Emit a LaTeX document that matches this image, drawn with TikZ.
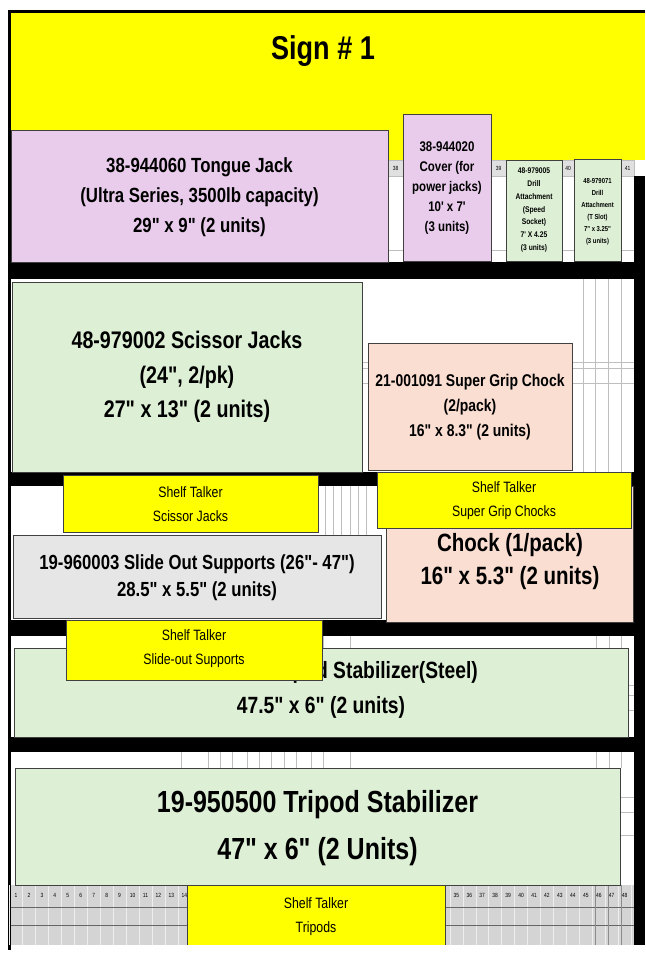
\documentclass[tikz,border=0pt]{standalone}
\usepackage{fontspec}
\setmainfont{Liberation Sans}[FakeStretch=0.82, Ligatures=TeXOff]
\usepackage{tikz}

\definecolor{signyellow}{RGB}{255,255,0}
\definecolor{jackpink}{RGB}{233,204,236}
\definecolor{boxgreen}{RGB}{221,240,213}
\definecolor{chockpeach}{RGB}{250,222,210}
\definecolor{slidegray}{RGB}{230,230,230}
\definecolor{rulergray}{RGB}{212,212,212}
\definecolor{cellline}{RGB}{190,190,190}

\begin{document}
\begin{tikzpicture}[x=1pt, y=-1pt,
    box/.style={draw=black!75, line width=0.8pt},
    talker/.style={fill=signyellow, draw=black!75, line width=0.8pt},
    cell/.style={draw=cellline, line width=0.6pt},
    lbl/.style 2 args={align=center, inner sep=0pt, font=\fontsize{#1}{#2}\selectfont\bfseries},
    talk/.style={align=center, inner sep=0pt, font=\fontsize{15}{24}\selectfont},
    rulernum/.style={inner sep=0pt, font=\fontsize{6}{6}\selectfont}]
    % page
    \useasboundingbox (0,0) rectangle (645,955);
    \fill[white] (0,0) rectangle (645,955);
    
    % yellow header
    \fill[signyellow] (11,13) rectangle (645,160);
    \node[lbl={33}{40}] (title) at (323,51) {Sign \# 1};
    
    % header cells between the top boxes
    \foreach \xa/\xb/\num in {388/403/38, 491/506/39, 562/574/40, 621/634/41} {
        \filldraw[cell, fill=black!12] (\xa,160) rectangle (\xb,176);
        \node[rulernum] (hc\num) at ({(\xa+\xb)/2},168) {\num};
    }
    \draw[cell] (388,250) -- (634,250);
    
    % sheet grid in the gaps
    \foreach \gx in {583,595,608,621} \draw[cell] (\gx,279) -- (\gx,472);
    \foreach \gy in {362,368,383} \draw[cell] (362,\gy) -- (634,\gy);
    \foreach \gx in {325,333,341,350,358,366} \draw[cell] (\gx,486) -- (\gx,535);
    \foreach \gx in {181,208,220,232,247,259,271,284,296,311,323,350,596,609,621} {
        \draw[cell] (\gx,636) -- (\gx,648);
        \draw[cell] (\gx,752) -- (\gx,768);
    }
    \foreach \gy in {685,695,710} \draw[cell] (628,\gy) -- (634,\gy);
    \foreach \gy in {797,812,835} \draw[cell] (620,\gy) -- (634,\gy);
    
    % black shelves and frame
    \fill (11,262) rectangle (645,279);
    \fill (11,472) rectangle (645,486);
    \fill (11,620) rectangle (645,636);
    \fill (11,737) rectangle (645,752);
    \fill (634,176) rectangle (645,945);
    \fill (8,10) rectangle (645,13);
    \fill (8,10) rectangle (11,950);
    
    % column ruler at the bottom
    \fill[rulergray] (11,885) rectangle (634,945);
    \foreach \n in {0,...,48} \draw[white!60!rulergray] ({9.5+\n*12.95},885) -- ++(0,60);
    \draw[black!60] (11,907) -- (634,907);
    \draw[black!60] (11,925) -- (634,925);
    \foreach \gx in {595,608,621} \draw[black!45] (\gx,885) -- (\gx,945);
    \foreach \n in {1,...,48} \node[rulernum] (col\n) at ({16+(\n-1)*12.95},895) {\n};
    
    % shelf 1: jacks and drill attachments
    \filldraw[box, fill=jackpink] (11,130) rectangle (388,262);
    \node[lbl={20.5}{30}] (tongue) at (199.5,197) {38-944060 Tongue Jack\\(Ultra Series, 3500lb capacity)\\29" x 9" (2 units)};
    \filldraw[box, fill=jackpink] (403,114) rectangle (491,261);
    \node[lbl={14}{20}] (cover) at (447,188) {38-944020\\Cover (for\\power jacks)\\10' x 7'\\(3 units)};
    \filldraw[box, fill=boxgreen] (506,160) rectangle (562,261);
    \node[lbl={8.2}{12.8}] (drillsocket) at (534,210) {48-979005\\Drill\\Attachment\\(Speed\\Socket)\\7' X 4.25\\(3 units)};
    \filldraw[box, fill=boxgreen] (574,159) rectangle (621,261);
    \node[lbl={7.2}{12}] (drillslot) at (597.5,212) {48-979071\\Drill\\Attachment\\(T Slot)\\7" x 3.25"\\(3 units)};
    
    % shelf 2: scissor jacks and chocks
    \filldraw[box, fill=boxgreen] (12,282) rectangle (362,472);
    \node[lbl={24}{34.5}] (scissor) at (187,377) {48-979002 Scissor Jacks\\(24", 2/pk)\\27" x 13" (2 units)};
    \filldraw[box, fill=chockpeach] (368,343) rectangle (572,470);
    \node[lbl={17}{25}] (supergrip) at (470,407) {21-001091 Super Grip Chock\\(2/pack)\\16" x 8.3" (2 units)};
    
    % shelf 3: slide out supports and chock
    \filldraw[box, fill=slidegray] (13,535) rectangle (381,618);
    \node[lbl={20.4}{27}] (slide) at (197,578) {19-960003 Slide Out Supports (26"- 47")\\28.5" x 5.5" (2 units)};
    \filldraw[box, fill=chockpeach] (386,486) rectangle (633,622);
    \node[lbl={25}{33}] (chock) at (510,562) {Chock (1/pack)\\16" x 5.3" (2 units)};
    
    % shelf 4: steel stabilizer
    \filldraw[box, fill=boxgreen] (14,648) rectangle (628,737);
    \node[lbl={23.5}{35}, anchor=base east] (steel) at (478,678) {Tripod Stabilizer(Steel)};
    \node[lbl={23.5}{35}, anchor=base] (steelsize) at (321,713) {47.5" x 6" (2 units)};
    
    % shelf 5: tripod stabilizer
    \filldraw[box, fill=boxgreen] (15,768) rectangle (620,885);
    \node[lbl={30.5}{47}] (tripod) at (317.5,828) {19-950500 Tripod Stabilizer\\47" x 6" (2 Units)};
    
    % shelf talkers on top
    \filldraw[talker] (63,475) rectangle (318,532);
    \node[talk] (talkscissor) at (190.5,504) {Shelf Talker\\Scissor Jacks};
    \filldraw[talker] (377,472) rectangle (631,528);
    \node[talk] (talkgrip) at (504,501) {Shelf Talker\\Super Grip Chocks};
    \filldraw[talker] (66,620) rectangle (322,680);
    \node[talk] (talkslide) at (194,649) {Shelf Talker\\Slide-out Supports};
    \fill[signyellow] (187,885) rectangle (445,945);
    \draw[box] (187,945) |- (445,885) -- (445,945);
    \node[talk] (talktripod) at (316,917) {Shelf Talker\\Tripods};
\end{tikzpicture}
\end{document}
